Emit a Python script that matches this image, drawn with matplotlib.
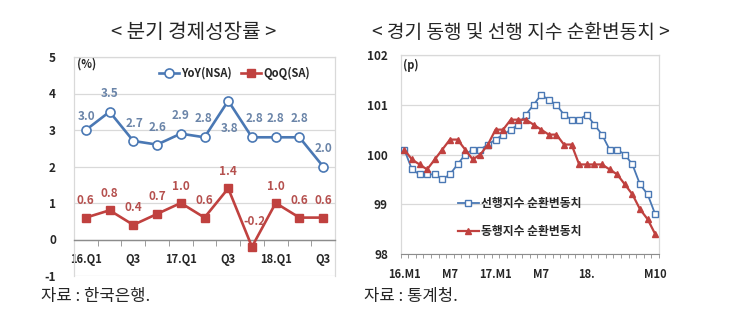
import numpy as np
import matplotlib
matplotlib.use("Agg")
import matplotlib.pyplot as plt

plt.rcParams['font.family'] = ['Noto Sans CJK KR', 'DejaVu Sans']
plt.rcParams['axes.unicode_minus'] = False

# ---------------- data ----------------
q_labels = ['16.Q1', '', 'Q3', '', '17.Q1', '', 'Q3', '', '18.Q1', '', 'Q3']
yoy = [3.0, 3.5, 2.7, 2.6, 2.9, 2.8, 3.8, 2.8, 2.8, 2.8, 2.0]
qoq = [0.6, 0.8, 0.4, 0.7, 1.0, 0.6, 1.4, -0.2, 1.0, 0.6, 0.6]

months = list(range(34))  # 2016.M1 .. 2018.M10
month_ticks = {0: '16.M1', 6: 'M7', 12: '17.M1', 18: 'M7', 24: '18.', 33: 'M10'}
leading = [100.1, 99.7, 99.6, 99.6, 99.6, 99.5, 99.6, 99.8, 100.0, 100.1,
           100.1, 100.2, 100.3, 100.4, 100.5, 100.6, 100.8, 101.0, 101.2, 101.1,
           101.0, 100.8, 100.7, 100.7, 100.8, 100.6, 100.4, 100.1, 100.1, 100.0,
           99.8, 99.4, 99.2, 98.8]
coincident = [100.1, 99.9, 99.8, 99.7, 99.9, 100.1, 100.3, 100.3, 100.1, 99.9,
              100.0, 100.2, 100.5, 100.5, 100.7, 100.7, 100.7, 100.6, 100.5, 100.4,
              100.4, 100.2, 100.2, 99.8, 99.8, 99.8, 99.8, 99.7, 99.6, 99.4,
              99.2, 98.9, 98.7, 98.4]

BLUE = '#4a78b4'
RED = '#c0413f'
BLUE_LBL = '#6a84a8'
RED_LBL = '#b5504e'
GRID = '#d9d9d9'
TXT = '#262626'

W, H = 745, 333
fig = plt.figure(figsize=(W / 100, H / 100), dpi=100)
fig.patch.set_facecolor('white')

def frac(x0, y_top, x1, y_bot):
    return [x0 / W, (H - y_bot) / H, (x1 - x0) / W, (y_bot - y_top) / H]

# ---------------- left chart ----------------
ax = fig.add_axes(frac(74, 57, 335, 276))
x = np.arange(len(yoy))
ax.plot(x, yoy, color=BLUE, lw=1.9, marker='o', ms=6.5, mfc='white',
        mec=BLUE, mew=1.2, zorder=3, label='YoY(NSA)')
ax.plot(x, qoq, color=RED, lw=1.9, marker='s', ms=5.5, mfc=RED,
        mec=RED, zorder=3, label='QoQ(SA)')
ax.set_xlim(-0.5, len(yoy) - 0.5)
ax.set_ylim(-1, 5)
ax.set_yticks(range(-1, 6))
ax.grid(axis='y', color=GRID, lw=0.9)
ax.set_axisbelow(True)
for s in ['top', 'left', 'right']:
    ax.spines[s].set_color(GRID)
    ax.spines[s].set_linewidth(0.9)
ax.spines['bottom'].set_position(('data', 0))
ax.spines['bottom'].set_color('#8c8c8c')
ax.spines['bottom'].set_linewidth(1.0)
ax.set_xticks(x)
ax.set_xticklabels(q_labels)
ax.set_xticks(np.arange(-0.5, len(yoy), 1), minor=True)
ax.tick_params(axis='x', which='major', length=0, pad=10, labelsize=8, labelcolor=TXT)
ax.tick_params(axis='x', which='minor', length=4, color='#8c8c8c', direction='out')
ax.tick_params(axis='y', length=0, pad=13, labelsize=8.5, labelcolor=TXT)
for t in ax.get_xticklabels() + ax.get_yticklabels():
    t.set_fontweight('bold')

yoy_off = [(1, 13), (0, 18), (1, 17), (0, 17), (0, 18), (-1, 19), (1, -28),
           (3, 19), (0, 19), (0, 19), (0, 18)]
for i, v in enumerate(yoy):
    ax.annotate(f'{v:.1f}', (i, v), xytext=yoy_off[i], textcoords='offset pixels',
                ha='center', va='center', fontsize=8.5, color=BLUE_LBL, fontweight='bold')
qoq_off = [(0, 17), (0, 17), (0, 17), (0, 17), (0, 17), (0, 17), (0, 17),
           (3, 25), (0, 17), (0, 17), (0, 17)]
for i, v in enumerate(qoq):
    ax.annotate(f'{v:.1f}', (i, v), xytext=qoq_off[i], textcoords='offset pixels',
                ha='center', va='center', fontsize=8.5, color=RED_LBL, fontweight='bold')

ax.text(3 / 261, 0.97, '(%)', transform=ax.transAxes, fontsize=8, fontweight='bold',
        color=TXT, ha='left', va='center')
leg = ax.legend(ncol=2, loc='center', bbox_to_anchor=(0.615, 0.927), frameon=False,
                handlelength=1.8, handletextpad=0.2, columnspacing=0.8,
                prop={'size': 8, 'weight': 'bold'})
for t in leg.get_texts():
    t.set_color(TXT)

fig.text(194 / W, 1 - 32 / H, '< 분기 경제성장률 >', ha='center', va='center',
         fontsize=14.5, fontweight='medium', color=TXT)
fig.text(41 / W, 1 - 297 / H, '자료 : 한국은행.', ha='left', va='center',
         fontsize=12, color=TXT)

# ---------------- right chart ----------------
ax2 = fig.add_axes(frac(400.5, 55, 659, 254))
ax2.plot(months, leading, color=BLUE, lw=1.3, marker='s', ms=5, mfc='white',
         mec=BLUE, mew=1.0, zorder=3, label='선행지수 순환변동치')
ax2.plot(months, coincident, color=RED, lw=1.6, marker='^', ms=4, mfc=RED,
         mec=RED, zorder=3, label='동행지수 순환변동치')
ax2.set_xlim(-0.5, len(months) - 0.5)
ax2.set_ylim(98, 102)
ax2.set_yticks(range(98, 103))
ax2.grid(axis='y', color=GRID, lw=0.9)
ax2.set_axisbelow(True)
for s in ['top', 'left', 'right']:
    ax2.spines[s].set_color(GRID)
    ax2.spines[s].set_linewidth(0.9)
ax2.spines['bottom'].set_color('#8c8c8c')
ax2.set_xticks(list(month_ticks.keys()))
ax2.set_xticklabels(list(month_ticks.values()))
ax2.set_xticks(np.arange(-0.5, len(months), 1), minor=True)
ax2.tick_params(axis='x', which='major', length=0, pad=10, labelsize=8, labelcolor=TXT)
ax2.tick_params(axis='x', which='minor', length=3, color='#8c8c8c', direction='out')
ax2.tick_params(axis='y', length=0, pad=9, labelsize=8.5, labelcolor=TXT)
for t in ax2.get_xticklabels() + ax2.get_yticklabels():
    t.set_fontweight('bold')
ax2.text(2 / 258.5, 0.95, '(p)', transform=ax2.transAxes, fontsize=8, fontweight='bold',
         color=TXT, ha='left', va='center')
leg2 = ax2.legend(loc='center', bbox_to_anchor=(0.462, 0.183), frameon=False,
                  handlelength=1.8, handletextpad=0.2, labelspacing=1.2,
                  prop={'size': 8.5, 'weight': 'bold'})
for t in leg2.get_texts():
    t.set_color(TXT)

fig.text(521 / W, 1 - 32 / H, '< 경기 동행 및 선행 지수 순환변동치 >', ha='center',
         va='center', fontsize=13.8, fontweight='medium', color=TXT)
fig.text(364 / W, 1 - 297 / H, '자료 : 통계청.', ha='left', va='center',
         fontsize=12, color=TXT)

fig.savefig('out.png', dpi=100, facecolor='white')
